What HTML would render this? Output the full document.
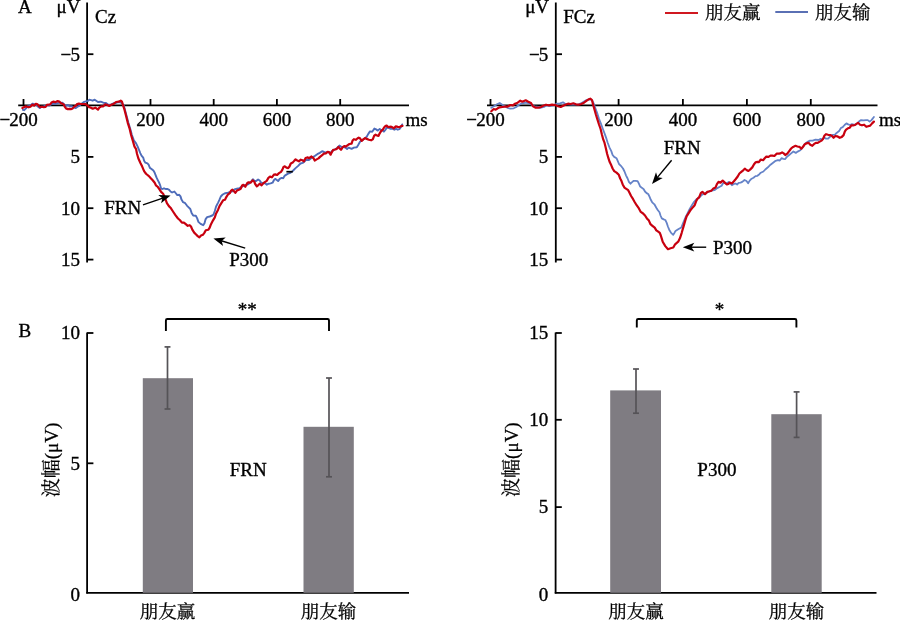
<!DOCTYPE html>
<html><head><meta charset="utf-8"><title>figure</title>
<style>
html,body{margin:0;padding:0;background:#fff;}
svg{display:block;}
text{font-family:'Liberation Serif', 'Times New Roman', serif;fill:#000;stroke:#000;stroke-width:0.35px;}
text.cjk{font-family:'Liberation Serif', 'Noto Serif CJK SC', serif;font-size:18.5px;stroke-width:0.25px;}
text.cjk2{font-family:'Liberation Serif', 'Noto Serif CJK SC', serif;stroke-width:0.25px;}
</style></head><body>
<svg width="900" height="620" viewBox="0 0 900 620">
<rect width="900" height="620" fill="#fff"/>
<line x1="87.1" y1="2.5" x2="87.1" y2="262.5" stroke="#000" stroke-width="1.8" />
<line x1="87.1" y1="54.2" x2="93.4" y2="54.2" stroke="#000" stroke-width="1.8" />
<line x1="87.1" y1="156.9" x2="93.4" y2="156.9" stroke="#000" stroke-width="1.8" />
<line x1="87.1" y1="208.2" x2="93.4" y2="208.2" stroke="#000" stroke-width="1.8" />
<line x1="87.1" y1="259.6" x2="93.4" y2="259.6" stroke="#000" stroke-width="1.8" />
<line x1="18.2" y1="105.4" x2="409" y2="105.4" stroke="#000" stroke-width="1.8" />
<line x1="23.5" y1="105.4" x2="23.5" y2="99" stroke="#000" stroke-width="1.8" />
<line x1="150.5" y1="105.4" x2="150.5" y2="99" stroke="#000" stroke-width="1.8" />
<line x1="213.7" y1="105.4" x2="213.7" y2="99" stroke="#000" stroke-width="1.8" />
<line x1="276.9" y1="105.4" x2="276.9" y2="99" stroke="#000" stroke-width="1.8" />
<line x1="340.2" y1="105.4" x2="340.2" y2="99" stroke="#000" stroke-width="1.8" />
<line x1="555.8" y1="2.5" x2="555.8" y2="262.5" stroke="#000" stroke-width="1.8" />
<line x1="555.8" y1="54.2" x2="562" y2="54.2" stroke="#000" stroke-width="1.8" />
<line x1="555.8" y1="156.9" x2="562" y2="156.9" stroke="#000" stroke-width="1.8" />
<line x1="555.8" y1="208.2" x2="562" y2="208.2" stroke="#000" stroke-width="1.8" />
<line x1="555.8" y1="259.6" x2="562" y2="259.6" stroke="#000" stroke-width="1.8" />
<line x1="487" y1="105.4" x2="877.5" y2="105.4" stroke="#000" stroke-width="1.8" />
<line x1="490.5" y1="105.4" x2="490.5" y2="99" stroke="#000" stroke-width="1.8" />
<line x1="618.6" y1="105.4" x2="618.6" y2="99" stroke="#000" stroke-width="1.8" />
<line x1="682.9" y1="105.4" x2="682.9" y2="99" stroke="#000" stroke-width="1.8" />
<line x1="746.9" y1="105.4" x2="746.9" y2="99" stroke="#000" stroke-width="1.8" />
<line x1="810.8" y1="105.4" x2="810.8" y2="99" stroke="#000" stroke-width="1.8" />
<polyline points="22.9,109.8 24.2,110.2 26.0,108.4 27.3,106.4 29.1,105.8 30.9,104.9 32.7,103.6 34.4,104.4 36.2,104.9 38.0,106.7 39.8,108.0 41.6,106.7 43.3,106.4 45.1,106.0 46.9,105.1 49.1,105.6 51.8,104.0 53.6,103.6 55.8,103.8 57.6,103.1 59.8,102.9 62.4,102.7 63.8,104.0 65.6,106.2 67.8,104.9 69.6,106.2 71.8,106.2 74.0,107.6 75.8,108.0 77.6,106.7 79.3,105.8 81.1,104.0 82.9,102.7 84.2,101.8 86.0,101.3 87.8,100.9 89.3,99.7 92.7,100.7 94.7,99.7 98.0,102.0 100.7,101.7 103.3,102.7 106.0,103.0 108.7,105.0 111.3,104.3 114.0,103.0 116.7,102.7 119.3,102.0 122.0,103.0 123.7,105.3 125.0,110.0 126.6,116.0 128.3,122.6 130.3,129.0 131.9,135.0 133.8,140.2 136.1,143.4 137.7,146.6 139.0,149.8 140.3,153.1 141.5,155.6 143.2,157.6 144.1,160.8 145.4,162.7 147.4,163.4 148.6,164.7 149.9,167.9 151.5,169.0 153.4,170.6 154.7,172.8 155.6,175.1 156.6,177.7 157.9,180.3 159.2,182.8 160.2,185.4 161.1,188.6 162.4,189.0 164.0,188.3 165.6,189.0 167.6,189.0 169.2,189.9 170.5,191.5 172.1,192.5 174.4,191.5 176.0,193.5 177.3,195.1 179.2,194.8 180.5,196.4 181.5,199.6 183.1,202.2 185.2,203.2 187.1,205.8 188.4,207.1 190.3,209.0 191.6,212.9 193.2,215.5 195.8,215.8 197.1,218.1 198.4,221.9 200.6,223.9 203.2,225.2 204.5,223.2 205.5,219.4 207.1,217.1 209.7,216.5 212.3,215.5 213.5,214.5 214.8,211.0 216.1,206.5 218.1,202.6 219.5,199.7 220.8,196.5 222.7,194.5 225.3,193.2 227.9,192.6 230.5,191.9 232.4,191.3 234.4,189.4 236.9,188.7 239.5,188.1 241.5,186.8 244.5,185.5 248.5,184.2 251.1,181.6 252.9,179.2 254.5,180.8 256.1,181.1 258.1,179.5 259.7,180.5 261.3,182.7 262.9,183.4 264.8,183.1 266.8,184.7 268.7,183.7 270.6,183.4 272.6,182.7 273.9,180.2 275.2,178.9 276.5,179.8 278.1,181.1 279.7,178.9 281.6,177.9 283.2,178.2 284.8,175.6 287.6,173.9 290.2,172.9 292.7,171.0 295.3,168.4 297.9,166.1 300.5,163.5 302.7,162.9 304.4,161.6 306.3,159.7 308.9,160.0 310.8,158.4 312.7,157.1 314.7,156.1 317.3,154.2 319.8,152.9 322.1,151.3 323.7,151.6 324.5,152.7 326.5,152.1 328.4,152.1 330.3,153.4 331.9,151.1 334.2,149.8 336.8,148.2 339.4,145.6 341.3,146.9 343.5,146.9 345.8,147.9 347.1,148.9 348.7,147.6 351.6,148.9 353.9,147.6 356.8,147.3 358.2,145.0 360.0,141.7 362.8,139.7 365.0,138.3 366.7,136.7 368.3,133.9 370.0,131.4 372.2,131.7 374.4,128.6 376.1,129.4 377.8,130.6 379.7,128.9 381.1,130.0 382.8,130.6 383.9,131.7 385.3,130.0 386.7,127.8 388.3,127.5 390.6,128.9 392.8,128.9 394.4,129.7 396.1,128.9 397.8,129.7 399.4,129.2 401.1,126.7 402.2,124.4" fill="none" stroke="#4e6cba" stroke-width="1.9" stroke-linejoin="round" stroke-linecap="round"/>
<polyline points="22.4,108.0 23.8,107.3 25.6,106.4 26.9,106.7 28.7,107.3 30.4,106.7 32.2,104.7 34.0,105.6 35.8,103.8 37.6,104.4 38.9,106.2 40.2,107.1 42.0,106.7 43.8,107.1 45.6,106.9 46.9,104.9 48.7,104.7 50.4,104.2 51.8,102.2 53.6,101.6 55.3,102.2 57.6,101.1 59.3,101.6 60.7,103.1 62.4,103.8 63.8,104.4 64.7,106.7 66.0,108.4 67.8,109.1 69.6,108.9 71.3,109.1 72.7,108.4 74.0,106.9 75.8,105.8 77.1,104.0 78.9,103.6 81.1,104.0 83.3,104.0 85.6,104.2 87.5,105.5 89.1,107.1 90.5,107.5 92.7,108.7 95.3,107.7 98.0,109.7 99.3,107.7 101.3,106.3 103.3,106.3 105.3,104.3 107.3,105.0 109.3,106.0 111.3,104.7 114.0,103.7 116.0,102.0 118.7,101.7 120.7,100.7 122.0,101.7 122.6,103.9 124.5,109.7 126.1,116.1 127.7,122.6 129.7,129.0 131.1,135.0 132.8,140.8 134.5,146.6 136.1,149.2 137.0,153.7 138.3,158.2 140.3,162.7 142.2,166.6 144.1,171.1 145.7,173.4 146.9,174.5 148.9,176.1 150.8,178.3 152.7,180.3 154.7,182.8 156.0,185.4 157.9,187.0 159.5,189.3 161.1,191.9 163.1,193.8 164.4,196.4 165.6,199.6 166.9,203.2 168.9,206.1 170.5,207.7 173.0,211.5 175.6,215.4 178.0,218.5 180.0,220.3 181.9,222.6 183.9,222.6 185.8,224.2 187.7,225.8 189.7,225.2 191.0,226.5 192.3,229.7 194.2,232.6 196.1,234.5 197.7,236.1 199.4,237.4 201.0,235.5 202.9,234.8 204.5,232.6 205.8,230.3 208.4,229.7 209.7,227.7 211.0,224.2 212.9,220.6 214.8,217.4 216.1,213.5 218.1,209.7 219.5,206.1 221.5,202.9 223.1,200.3 225.0,199.7 226.3,197.1 227.9,194.5 229.8,193.2 231.1,190.6 232.4,189.7 234.0,191.3 235.3,192.9 236.9,190.6 238.9,189.7 240.8,188.7 242.1,185.5 243.4,184.8 245.3,186.8 247.3,182.9 248.5,182.3 250.8,182.6 252.7,180.3 254.2,181.5 255.2,184.0 256.8,186.3 258.1,185.3 259.7,183.7 261.6,185.3 263.2,183.4 264.8,182.1 266.8,180.8 268.4,177.9 270.0,176.6 271.9,177.3 273.9,174.7 275.8,174.4 277.1,175.0 279.0,173.1 281.0,171.8 282.3,169.8 283.5,166.9 284.8,166.3 286.5,167.6 288.2,168.1 289.5,166.5 290.8,163.5 292.7,162.6 294.4,160.6 295.6,159.4 297.3,160.6 298.9,161.3 300.8,159.7 302.4,160.3 304.0,161.3 305.6,158.1 307.3,157.4 309.2,158.1 311.5,156.5 313.4,158.1 314.7,160.6 316.6,159.4 318.5,158.4 320.0,156.9 321.9,155.3 323.9,153.7 325.8,153.4 327.7,151.8 329.4,152.4 330.6,154.7 331.9,152.1 333.2,149.8 335.2,149.5 336.8,148.9 338.4,146.9 339.7,148.5 341.0,149.8 342.6,147.3 344.2,146.0 345.8,146.6 347.4,145.3 349.4,144.0 351.6,143.7 352.6,140.5 353.9,139.2 355.8,139.8 357.4,138.5 358.7,137.6 360.0,138.3 361.7,140.8 363.3,139.4 365.0,138.1 366.7,138.9 368.9,139.7 371.1,140.3 372.8,139.4 374.2,135.6 375.6,134.7 377.2,135.6 378.6,135.8 379.7,133.3 381.1,131.1 382.8,129.7 383.9,127.8 385.3,126.1 386.7,125.6 388.3,127.2 391.1,126.7 392.2,127.2 393.9,128.3 395.8,126.4 397.8,126.9 399.4,127.2 401.1,126.1 402.5,125.8" fill="none" stroke="#c8000f" stroke-width="2.2" stroke-linejoin="round" stroke-linecap="round"/>
<polyline points="491.3,107.7 494.3,106.0 497.0,104.3 499.7,103.0 502.3,104.7 505.0,106.3 507.7,108.0 510.3,108.7 513.7,108.3 516.3,107.0 518.3,105.3 521.0,103.7 523.7,103.0 526.3,102.7 529.0,103.3 531.7,104.7 534.3,106.3 538.3,107.0 540.0,108.0 544.0,107.0 546.7,105.3 550.0,106.0 553.3,105.3 557.3,103.7 560.0,103.3 563.0,102.3 565.3,104.0 568.0,104.3 571.3,104.7 574.7,104.7 578.7,104.3 582.0,102.7 585.3,100.7 588.0,99.7 590.7,99.3 592.7,101.3 593.9,103.9 595.2,107.7 597.1,112.9 599.0,118.7 601.0,123.9 602.9,129.0 605.0,134.6 606.5,138.9 607.7,142.7 609.4,147.3 611.3,151.1 612.6,155.0 614.2,156.9 616.5,158.2 617.7,160.8 619.0,164.0 620.9,165.8 623.0,168.5 624.5,171.5 626.0,175.3 627.6,178.5 628.9,181.8 630.5,183.7 632.1,182.1 633.7,180.8 635.6,180.8 637.6,181.1 638.9,183.7 640.2,186.6 642.1,187.9 643.7,189.2 645.0,191.5 646.6,193.1 648.2,194.0 649.5,196.6 650.8,199.8 652.2,202.3 654.4,204.3 656.3,207.7 657.9,210.3 659.5,212.3 660.5,215.5 661.8,218.4 663.7,219.4 665.3,220.0 666.6,222.6 667.9,226.5 669.2,229.7 671.1,232.9 673.2,234.8 674.4,232.9 675.5,231.0 678.2,229.3 681.3,227.5 683.1,223.1 685.7,216.9 687.5,213.3 689.7,208.9 691.9,205.3 694.1,201.8 696.6,199.0 699.2,197.7 701.8,194.8 703.7,194.0 706.5,192.6 709.5,191.3 712.5,190.3 714.7,190.0 717.3,188.1 719.8,186.8 721.6,185.8 722.9,183.5 724.5,182.9 726.5,183.5 728.7,181.9 730.3,183.5 731.9,185.2 733.5,184.2 735.5,183.5 737.1,184.5 738.7,182.9 740.6,182.6 742.6,181.6 744.5,180.0 746.5,181.0 748.1,183.2 749.7,180.6 751.6,178.7 753.5,177.7 755.5,176.1 757.4,175.8 759.4,174.2 760.8,172.7 763.4,171.5 765.3,169.5 767.9,167.3 770.5,164.7 773.1,162.7 775.6,160.8 777.9,160.2 779.8,160.5 781.5,158.2 783.4,158.9 785.0,159.2 786.9,156.9 789.2,155.0 791.1,153.4 793.4,151.5 795.8,152.9 797.7,151.6 800.3,150.3 802.9,147.1 805.5,143.2 808.1,141.6 810.0,140.6 812.6,140.6 815.5,139.7 818.4,140.0 820.3,139.0 822.3,139.4 824.2,137.4 826.1,138.7 828.1,138.7 829.7,137.1 830.8,135.7 832.9,134.8 834.8,134.8 836.6,132.9 839.1,131.1 840.9,128.0 842.7,127.1 844.6,125.0 846.4,123.4 848.2,124.4 850.1,125.0 851.9,124.1 853.7,124.7 855.6,124.7 857.4,123.1 859.2,121.3 861.1,120.1 863.5,120.4 866.0,120.1 867.8,120.1 869.6,121.6 871.5,120.1 873.9,117.0" fill="none" stroke="#6583c8" stroke-width="1.8" stroke-linejoin="round" stroke-linecap="round"/>
<polyline points="491.3,111.3 493.7,109.0 495.7,109.7 497.7,108.3 499.7,107.3 502.3,107.0 505.0,106.7 507.7,106.7 510.3,105.0 513.0,105.3 515.0,103.7 517.7,102.7 520.3,100.7 522.3,101.7 525.7,100.3 528.3,101.7 531.0,103.0 533.0,106.3 535.7,107.7 538.3,107.7 541.0,107.0 542.7,106.0 546.0,104.7 548.7,105.3 552.0,104.7 555.3,105.0 558.0,106.3 560.7,107.0 562.7,106.0 565.3,104.7 568.0,103.7 570.7,104.0 573.3,103.3 576.0,104.3 578.7,104.7 581.3,104.0 584.0,102.7 586.7,100.7 588.7,99.3 590.3,98.7 592.0,100.0 592.9,103.9 594.2,108.4 595.8,114.2 597.4,119.4 599.0,124.5 600.6,129.0 601.9,134.5 603.3,139.7 604.5,142.7 605.8,147.9 607.1,153.7 608.4,158.2 609.7,162.1 611.3,165.3 612.6,168.5 614.2,171.1 616.5,172.6 618.8,174.8 620.2,178.5 621.5,181.1 622.7,184.4 624.4,187.6 626.3,188.9 628.2,190.2 629.5,192.7 631.1,196.0 633.1,199.2 634.8,202.2 636.6,205.2 638.9,208.4 640.8,211.9 643.1,213.5 645.0,215.5 646.9,218.4 648.9,220.6 650.5,224.2 652.4,225.8 654.7,227.7 656.3,230.3 658.2,231.6 659.8,232.9 660.8,235.5 662.0,239.4 662.7,241.7 665.3,246.1 668.0,249.2 670.6,248.3 673.3,247.5 675.1,244.3 678.2,241.7 680.0,238.1 681.7,232.8 683.5,226.6 685.3,220.4 686.6,216.4 688.8,212.9 690.8,209.7 692.7,207.4 694.7,205.2 696.0,201.6 697.3,199.0 699.2,197.1 700.8,193.2 702.4,191.9 705.0,194.2 707.3,191.9 709.5,191.3 711.5,190.6 713.4,188.4 715.6,187.4 716.9,184.2 718.5,181.9 720.5,182.6 722.7,180.6 724.8,182.6 726.8,184.5 728.4,183.9 729.7,182.6 731.9,183.5 733.9,181.3 735.8,179.0 737.7,176.5 739.4,173.5 741.3,171.9 743.2,170.3 744.8,168.7 746.5,170.0 748.4,171.0 750.3,169.4 752.3,167.4 753.9,164.5 755.5,162.3 757.4,161.9 758.9,162.1 760.8,159.5 763.1,160.2 764.7,158.2 766.3,156.6 768.5,156.9 770.5,155.6 772.4,155.6 774.4,156.0 776.6,153.7 778.9,153.7 780.5,153.4 782.1,152.4 783.7,153.4 785.3,155.0 787.3,153.7 789.2,151.1 791.1,148.5 793.1,146.9 795.5,145.8 797.4,146.5 799.4,146.8 801.3,148.7 803.2,146.5 804.8,144.2 806.8,143.2 808.7,142.9 810.3,144.8 812.3,145.8 813.9,144.2 815.8,142.9 817.7,142.9 819.7,141.6 821.6,140.6 823.2,138.7 824.5,135.5 826.1,134.2 828.1,134.8 830.5,135.1 832.0,136.0 833.6,137.8 835.4,136.0 837.2,136.3 839.7,137.8 841.8,136.9 843.6,135.1 844.9,131.4 846.1,129.6 847.9,128.3 849.8,127.7 851.3,125.3 853.1,125.3 855.0,125.0 856.5,123.8 858.0,122.8 860.1,124.7 862.0,125.3 864.1,124.7 866.3,126.8 868.1,126.2 870.2,125.6 872.1,123.4 873.9,121.6" fill="none" stroke="#c8000f" stroke-width="2.2" stroke-linejoin="round" stroke-linecap="round"/>
<line x1="286.4" y1="171.7" x2="292.8" y2="171.7" stroke="#000" stroke-width="1.7" />
<text x="18" y="13" font-size="19" text-anchor="start" >A</text>
<text x="56.6" y="12.8" font-size="19" text-anchor="start" >μV</text>
<text x="95" y="22.5" font-size="19" text-anchor="start" >Cz</text>
<text x="23.5" y="125.6" font-size="19" text-anchor="middle" >200</text>
<text x="150.5" y="125.6" font-size="19" text-anchor="middle" >200</text>
<text x="213.7" y="125.6" font-size="19" text-anchor="middle" >400</text>
<text x="276.9" y="125.6" font-size="19" text-anchor="middle" >600</text>
<text x="340.2" y="125.6" font-size="19" text-anchor="middle" >800</text>
<text x="10.3" y="125.6" font-size="19" text-anchor="end" >−</text>
<text x="405.6" y="125.6" font-size="19" text-anchor="start" >ms</text>
<text x="80" y="60.5" font-size="19" text-anchor="end" >5</text>
<text x="80" y="163.20000000000002" font-size="19" text-anchor="end" >5</text>
<text x="80" y="214.5" font-size="19" text-anchor="end" >10</text>
<text x="80" y="266.1" font-size="19" text-anchor="end" >15</text>
<text x="71.3" y="60.5" font-size="19" text-anchor="end" >−</text>
<text x="525.2" y="12.8" font-size="19" text-anchor="start" >μV</text>
<text x="563.2" y="22.5" font-size="19" text-anchor="start" >FCz</text>
<text x="490.5" y="125.6" font-size="19" text-anchor="middle" >200</text>
<text x="618.6" y="125.6" font-size="19" text-anchor="middle" >200</text>
<text x="682.9" y="125.6" font-size="19" text-anchor="middle" >400</text>
<text x="746.9" y="125.6" font-size="19" text-anchor="middle" >600</text>
<text x="810.8" y="125.6" font-size="19" text-anchor="middle" >800</text>
<text x="477.0" y="125.6" font-size="19" text-anchor="end" >−</text>
<text x="879" y="125.6" font-size="19" text-anchor="start" >ms</text>
<text x="548.3" y="60.5" font-size="19" text-anchor="end" >5</text>
<text x="548.3" y="163.20000000000002" font-size="19" text-anchor="end" >5</text>
<text x="548.3" y="214.5" font-size="19" text-anchor="end" >10</text>
<text x="548.3" y="266.1" font-size="19" text-anchor="end" >15</text>
<text x="539.8" y="60.5" font-size="19" text-anchor="end" >−</text>
<line x1="665" y1="12.9" x2="698" y2="12.9" stroke="#d01820" stroke-width="2.0" />
<text x="705" y="19.0" font-size="19" text-anchor="start" class="cjk">朋友赢</text>
<line x1="775.3" y1="12.1" x2="808" y2="12.1" stroke="#5a70b4" stroke-width="2.0" />
<text x="815" y="19.0" font-size="19" text-anchor="start" class="cjk">朋友输</text>
<text x="104.3" y="214" font-size="19" text-anchor="start" >FRN</text>
<line x1="143" y1="204.8" x2="162.83783594023564" y2="198.04363558557193" stroke="#000" stroke-width="1.4" />
<polygon points="170.6,195.4 161.1,203.3 162.4,198.2 158.3,194.9" fill="#000"/>
<text x="229.3" y="266" font-size="19" text-anchor="start" >P300</text>
<line x1="245.2" y1="248.1" x2="221.24323077484922" y2="240.79243202880622" stroke="#000" stroke-width="1.4" />
<polygon points="213.4,238.4 225.7,237.5 221.7,240.9 223.1,246.0" fill="#000"/>
<text x="663.8" y="153.5" font-size="19" text-anchor="start" >FRN</text>
<line x1="671.6" y1="160.3" x2="657.2389882248252" y2="177.5918305048023" stroke="#000" stroke-width="1.4" />
<polygon points="652.0,183.9 656.0,172.2 657.6,177.2 662.7,177.9" fill="#000"/>
<text x="712.9" y="254.2" font-size="19" text-anchor="start" >P300</text>
<line x1="706.2" y1="247.2" x2="691.0" y2="247.2" stroke="#000" stroke-width="1.4" />
<polygon points="682.8,247.2 694.3,242.8 691.5,247.2 694.3,251.6" fill="#000"/>
<line x1="87.1" y1="332.4" x2="87.1" y2="593.5999999999999" stroke="#000" stroke-width="1.8" />
<line x1="86.3" y1="592.8" x2="409" y2="592.8" stroke="#000" stroke-width="1.8" />
<line x1="87.1" y1="333.0" x2="93.4" y2="333.0" stroke="#000" stroke-width="1.8" />
<line x1="87.1" y1="463.3" x2="93.4" y2="463.3" stroke="#000" stroke-width="1.8" />
<rect x="142.8" y="378.2" width="50.2" height="214.6" fill="#7f7c82"/>
<rect x="303.5" y="426.8" width="50.3" height="166.0" fill="#7f7c82"/>
<line x1="167.5" y1="346.9" x2="167.5" y2="409.0" stroke="#555357" stroke-width="1.7" />
<line x1="164.55" y1="346.9" x2="170.45" y2="346.9" stroke="#555357" stroke-width="1.7" />
<line x1="164.55" y1="409.0" x2="170.45" y2="409.0" stroke="#555357" stroke-width="1.7" />
<line x1="329.0" y1="378.0" x2="329.0" y2="476.8" stroke="#555357" stroke-width="1.7" />
<line x1="326.05" y1="378.0" x2="331.95" y2="378.0" stroke="#555357" stroke-width="1.7" />
<line x1="326.05" y1="476.8" x2="331.95" y2="476.8" stroke="#555357" stroke-width="1.7" />
<path d="M165.9,331.1 L165.9,320.4 Q165.9,319 167.3,319 L327.6,319 Q329,319 329,320.4 L329,331.1" fill="none" stroke="#000" stroke-width="1.9"/>
<text x="247.3" y="315.5" font-size="19" text-anchor="middle" >**</text>
<text x="248.2" y="475.6" font-size="19" text-anchor="middle" >FRN</text>
<text x="80" y="339.3" font-size="19" text-anchor="end" >10</text>
<text x="80" y="469.6" font-size="19" text-anchor="end" >5</text>
<text x="80" y="601.1999999999999" font-size="19" text-anchor="end" >0</text>
<text x="167.6" y="617.9" font-size="19" text-anchor="middle" class="cjk">朋友赢</text>
<text x="328.4" y="617.9" font-size="19" text-anchor="middle" class="cjk">朋友输</text>
<text transform="translate(58.3,460) rotate(-90)" font-size="19" text-anchor="middle" class="cjk2">波幅(μV)</text>
<text x="18.5" y="337" font-size="19" text-anchor="start" >B</text>
<line x1="555.6" y1="332.6" x2="555.6" y2="593.5999999999999" stroke="#000" stroke-width="1.8" />
<line x1="554.8000000000001" y1="592.8" x2="876.5" y2="592.8" stroke="#000" stroke-width="1.8" />
<line x1="555.6" y1="333.0" x2="561.8" y2="333.0" stroke="#000" stroke-width="1.8" />
<line x1="555.6" y1="419.8" x2="561.8" y2="419.8" stroke="#000" stroke-width="1.8" />
<line x1="555.6" y1="507.1" x2="561.8" y2="507.1" stroke="#000" stroke-width="1.8" />
<rect x="610.2" y="390.4" width="50.8" height="202.4" fill="#7f7c82"/>
<rect x="771.3" y="414.2" width="50.4" height="178.6" fill="#7f7c82"/>
<line x1="636.0" y1="369.0" x2="636.0" y2="413.2" stroke="#555357" stroke-width="1.7" />
<line x1="633.05" y1="369.0" x2="638.95" y2="369.0" stroke="#555357" stroke-width="1.7" />
<line x1="633.05" y1="413.2" x2="638.95" y2="413.2" stroke="#555357" stroke-width="1.7" />
<line x1="796.6" y1="391.9" x2="796.6" y2="437.4" stroke="#555357" stroke-width="1.7" />
<line x1="793.65" y1="391.9" x2="799.5500000000001" y2="391.9" stroke="#555357" stroke-width="1.7" />
<line x1="793.65" y1="437.4" x2="799.5500000000001" y2="437.4" stroke="#555357" stroke-width="1.7" />
<path d="M636.8,327.4 L636.8,320.4 Q636.8,319 638.2,319 L795,319 Q796.4,319 796.4,320.4 L796.4,327.4" fill="none" stroke="#000" stroke-width="1.9"/>
<text x="719.5" y="315.8" font-size="19" text-anchor="middle" >*</text>
<text x="716.9" y="475.6" font-size="19" text-anchor="middle" >P300</text>
<text x="548.3" y="339.3" font-size="19" text-anchor="end" >15</text>
<text x="548.3" y="426.1" font-size="19" text-anchor="end" >10</text>
<text x="548.3" y="513.4" font-size="19" text-anchor="end" >5</text>
<text x="548.3" y="601.1999999999999" font-size="19" text-anchor="end" >0</text>
<text x="636" y="617.9" font-size="19" text-anchor="middle" class="cjk">朋友赢</text>
<text x="796.5" y="617.9" font-size="19" text-anchor="middle" class="cjk">朋友输</text>
<text transform="translate(517.5,459.6) rotate(-90)" font-size="19" text-anchor="middle" class="cjk2">波幅(μV)</text>
</svg>
</body></html>
